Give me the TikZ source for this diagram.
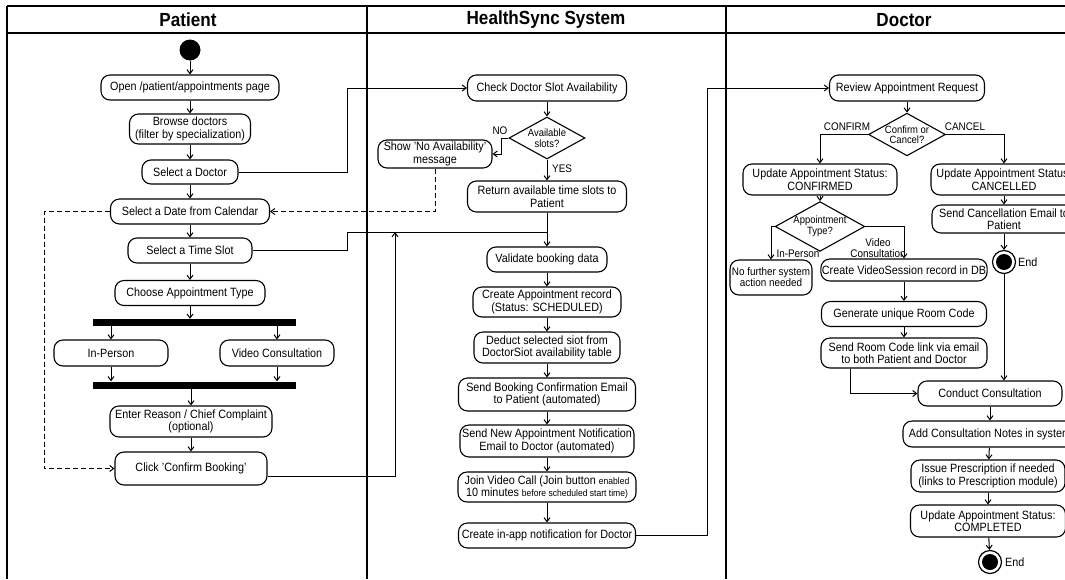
\documentclass[tikz,border=0pt]{standalone}
\usepackage{fontspec}
\setmainfont{Liberation Sans}[FakeStretch=0.9]
\usetikzlibrary{arrows.meta,shapes.geometric,calc}

\newcommand\boxfont{\fontsize{12}{12.5}\selectfont}
\newcommand\minifont{\fontsize{10.5}{10.5}\selectfont}
\newcommand\labelfont{\fontsize{11}{11}\selectfont}
\newcommand\joinsmall{\fontsize{9.5}{10}\selectfont}

\begin{document}
\begin{tikzpicture}[x=1pt,y=-1pt,
  act/.style={draw, rounded corners=9pt, line width=1.1pt, align=center,
              inner sep=1pt, font=\boxfont},
  bar/.style={fill=black, inner sep=0pt, minimum width=203pt, minimum height=7pt},
  dec/.style={draw, diamond, line width=1.1pt, inner sep=0pt, align=center,
              aspect=1.8, font=\minifont},
  flow/.style={line width=1pt, -{Straight Barb[length=4pt,width=6pt]}},
  link/.style={line width=1pt},
  lane/.style={line width=1.4pt},
  lbl/.style={font=\labelfont, inner sep=1pt},
  head/.style={font=\bfseries\fontsize{19}{19}\selectfont},
  final/.style={circle, draw, line width=1.2pt, minimum size=23pt, inner sep=0pt},
]
\useasboundingbox (0,0) rectangle (1065,579);
\fill[white] (0,0) rectangle (1065,579);

% swimlane frame
\draw[lane] (7,6) -- (1065,6);
\draw[lane] (7,33) -- (1065,33);
\draw[lane] (7,6) -- (7,579);
\draw[lane] (367,6) -- (367,579);
\draw[lane] (726,6) -- (726,579);
\node[head] (hpat) at (188,20) {Patient};
\node[head] (hsys) at (546,20) {HealthSync System};
\node[head] (hdoc) at (904,20) {Doctor};

% ---------- Patient lane ----------
\node[circle, fill=black, minimum size=21pt, inner sep=0pt] (start) at (190,50) {};
\node[act, minimum width=178pt, minimum height=25pt] (open) at (190,87.5) {Open /patient/appointments page};
\node[act, minimum width=121pt, minimum height=30pt] (browse) at (190,129) {Browse doctors\\(filter by specialization)};
\node[act, minimum width=96pt, minimum height=24pt] (seldoc) at (190,172) {Select a Doctor};
\node[act, minimum width=159pt, minimum height=25pt] (seldate) at (190,211.5) {Select a Date from Calendar};
\node[act, minimum width=124pt, minimum height=25pt] (selslot) at (190,250.5) {Select a Time Slot};
\node[act, minimum width=150pt, minimum height=25pt] (choose) at (190,293) {Choose Appointment Type};
\node[bar] (fork) at (194.5,322.5) {};
\node[act, minimum width=114pt, minimum height=26pt] (inperson) at (111,353) {In-Person};
\node[act, minimum width=114pt, minimum height=26pt] (video) at (277,353) {Video Consultation};
\node[bar] (join) at (194.5,385) {};
\node[act, minimum width=162pt, minimum height=31pt] (reason) at (191,421.5) {Enter Reason / Chief Complaint\\(optional)};
\node[act, minimum width=152pt, minimum height=33pt] (confirm) at (191,468.5) {Click 'Confirm Booking'};

% ---------- HealthSync System lane ----------
\node[act, minimum width=159pt, minimum height=26pt] (check) at (547,88) {Check Doctor Slot Availability};
\node[dec, minimum width=76pt, minimum height=42pt] (avail) at (547,138) {Available\\slots?};
\node[act, minimum width=114pt, minimum height=28pt] (noav) at (435,154) {Show 'No Availability'\\message};
\node[act, minimum width=159pt, minimum height=31pt] (ret) at (547,196.5) {Return available time slots to\\Patient};
\node[act, minimum width=120pt, minimum height=25pt] (valid) at (547,259.5) {Validate booking data};
\node[act, minimum width=148pt, minimum height=30pt] (create) at (547,302) {Create Appointment record\\(Status: SCHEDULED)};
\node[act, minimum width=146pt, minimum height=31pt] (deduct) at (547,347.5) {Deduct selected siot from\\DoctorSiot availability table};
\node[act, minimum width=177pt, minimum height=33pt] (sendbook) at (547,394.5) {Send Booking Confirmation Email\\to Patient (automated)};
\node[act, minimum width=174pt, minimum height=32pt] (sendnew) at (547,441) {Send New Appointment Notification\\Email to Doctor (automated)};
\node[act, minimum width=178pt, minimum height=30pt] (joincall) at (547,487) {Join Video Call (Join button {\joinsmall enabled}\\10 minutes {\joinsmall before scheduled start time)}};
\node[act, minimum width=177pt, minimum height=25pt] (inapp) at (547,535.5) {Create in-app notification for Doctor};

% ---------- Doctor lane ----------
\node[act, minimum width=155pt, minimum height=26pt] (review) at (907,88) {Review Appointment Request};
\node[dec, minimum width=76pt, minimum height=39pt] (cc) at (907,134.5) {Confirm or\\Cancel?};
\node[act, minimum width=154pt, minimum height=31pt] (upconf) at (820,179.5) {Update Appointment Status:\\CONFIRMED};
\node[act, minimum width=146pt, minimum height=31pt] (upcanc) at (1004,179.5) {Update Appointment Status:\\CANCELLED};
\node[act, minimum width=144pt, minimum height=28pt] (sendcanc) at (1004,219) {Send Cancellation Email to\\Patient};
\node[final] (end1) at (1004,262) {};
\fill (end1) circle (8pt);
\node[lbl, anchor=west, font=\boxfont] (end1l) at (1017,262) {End};
\node[dec, minimum width=84pt, minimum height=37pt] (atype) at (820,226.5) {Appointment\\Type?};
\node[act, minimum width=82pt, minimum height=35pt, font=\labelfont] (nofurther) at (771,277.5) {No further system\\action needed};
\node[act, minimum width=162pt, minimum height=22pt] (vsess) at (904,270) {Create VideoSession record in DB};
\node[act, minimum width=165pt, minimum height=25pt] (room) at (904,314) {Generate unique Room Code};
\node[act, minimum width=166pt, minimum height=30pt] (sendroom) at (904,353) {Send Room Code link via email\\to both Patient and Doctor};
\node[act, minimum width=144pt, minimum height=25pt] (conduct) at (990,393.5) {Conduct Consultation};
\node[act, minimum width=174pt, minimum height=26pt] (notes) at (990,434) {Add Consultation Notes in system};
\node[act, minimum width=154pt, minimum height=32pt] (issue) at (988,476) {Issue Prescription if needed\\(links to Prescription module)};
\node[act, minimum width=155pt, minimum height=32pt] (complete) at (988,521) {Update Appointment Status:\\COMPLETED};
\node[final] (end2) at (990,562) {};
\fill (end2) circle (8pt);
\node[lbl, anchor=west, font=\boxfont] (end2l) at (1004,562) {End};

% ---------- Patient flow ----------
\draw[flow] (start) -- (open);
\draw[flow] (open) -- (browse);
\draw[flow] (browse) -- (seldoc);
\draw[flow] (seldoc) -- (seldate);
\draw[flow] (seldate) -- (selslot);
\draw[flow] (selslot) -- (choose);
\draw[flow] (choose.south) -- (choose.south |- fork.north);
\draw[flow] (fork.south -| inperson) -- (inperson.north);
\draw[flow] (fork.south -| video) -- (video.north);
\draw[flow] (inperson.south) -- (inperson.south |- join.north);
\draw[flow] (video.south) -- (video.south |- join.north);
\draw[flow] (join.south -| reason) -- (reason.north);
\draw[flow] (reason) -- (confirm);

% dashed return paths
\coordinate (dashx) at (44,0);
\draw[flow, dash pattern=on 5pt off 3pt] (seldate.west) -- (seldate.west -| dashx) |- (confirm.west);
\draw[flow, dash pattern=on 5pt off 3pt] (noav.south) |- (seldate.east);

% lane-crossing connectors
\coordinate (jx1) at (347,0);
\coordinate (merge) at (547,232);
\coordinate (jx2) at (395,0);
\coordinate (jx3) at (707,0);
\coordinate (jx4) at (850,0);
\draw[flow] (seldoc.east) -- (seldoc.east -| jx1) |- (check.west);
\draw[link] (selslot.east) -- (selslot.east -| jx1) |- (merge);
\draw[flow] ([yshift=-8pt]confirm.east) -| (jx2 |- merge);
\draw[flow] (inapp.east) -- (inapp.east -| jx3) |- (review.west);

% ---------- System flow ----------
\draw[flow] (check) -- (avail);
\draw[flow] (avail.west) -- ++(-7,0) |- (noav.east);
\node[lbl] (nolbl) at (500,131) {NO};
\draw[flow] (avail.south) -- (ret.north);
\node[lbl, anchor=west] (yeslbl) at (551,169) {YES};
\draw[flow] (ret) -- (valid);
\draw[flow] (valid) -- (create);
\draw[flow] (create) -- (deduct);
\draw[flow] (deduct) -- (sendbook);
\draw[flow] (sendbook) -- (sendnew);
\draw[flow] (sendnew) -- (joincall);
\draw[flow] (joincall) -- (inapp);

% ---------- Doctor flow ----------
\draw[flow] (review) -- (cc);
\draw[flow] (cc.west) -| (upconf.north);
\node[lbl] (conflbl) at (847,127) {CONFIRM};
\draw[flow] (cc.east) -| (upcanc.north);
\node[lbl] (canclbl) at (965,127) {CANCEL};
\draw[flow] (upconf) -- (atype);
\draw[flow] (atype.west) -| (nofurther.north);
\node[lbl] (iplbl) at (798,254) {In-Person};
\draw[flow] (atype.east) -| (vsess.north);
\node[lbl, align=center] (vclbl) at (878,248) {Video\\Consultation};
\draw[flow] (upcanc) -- (sendcanc);
\draw[flow] (sendcanc) -- (end1);
\draw[flow] (end1.south) -- (end1.south |- conduct.north);
\draw[flow] (vsess) -- (room);
\draw[flow] (room) -- (sendroom);
\draw[flow] (sendroom.south -| jx4) |- (conduct.west);
\draw[flow] (conduct) -- (notes);
\draw[flow] (notes) -- (issue);
\draw[flow] (issue) -- (complete);
\draw[flow] (complete) -- (end2);
\end{tikzpicture}
\end{document}
